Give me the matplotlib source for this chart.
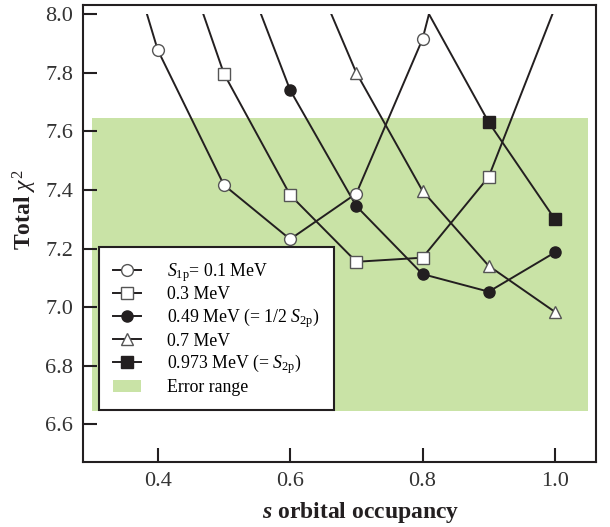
import numpy as np
import matplotlib
matplotlib.use("Agg")
import matplotlib.pyplot as plt
from matplotlib.lines import Line2D
from matplotlib.patches import Rectangle

# values (points above 8.0 only set the clipped line ends)
x_01 = [0.3, 0.4, 0.5, 0.6, 0.7, 0.8, 0.9]
chi_01 = [8.63, 7.878, 7.417, 7.232, 7.388, 7.915, 8.79]
x_03 = [0.4, 0.5, 0.6, 0.7, 0.8, 0.9, 1.0]
chi_03 = [8.45, 7.797, 7.383, 7.155, 7.169, 7.445, 8.022]
x_049 = [0.5, 0.6, 0.7, 0.8, 0.9, 1.0]
chi_049 = [8.33, 7.741, 7.345, 7.113, 7.053, 7.187]
x_07 = [0.6, 0.7, 0.8, 0.9, 1.0]
chi_07 = [8.33, 7.80, 7.397, 7.141, 6.984]
x_0973 = [0.8, 0.9, 1.0]
chi_0973 = [8.04, 7.631, 7.300]

err_x = [0.3, 1.05]
err_lo = 6.645
err_hi = 7.645
chi_cut = 8.0

labels = [r'$S_{\rm 1p}$= 0.1 MeV', '0.3 MeV', r'0.49 MeV (= 1/2 $S_{\rm 2p}$)',
          '0.7 MeV', r'0.973 MeV (= $S_{\rm 2p}$)']

plt.rcParams['font.family'] = 'serif'
plt.rcParams['font.serif'] = ['Liberation Serif', 'DejaVu Serif']
plt.rcParams['mathtext.fontset'] = 'custom'
plt.rcParams['mathtext.rm'] = 'Liberation Serif'
plt.rcParams['mathtext.it'] = 'Liberation Serif:italic'
plt.rcParams['mathtext.bf'] = 'Liberation Serif:bold'
plt.rcParams['mathtext.bfit'] = 'Liberation Serif:italic:bold'

ink = '#231f20'
green = '#c9e3a6'
edge_open = '#555555'

fig = plt.figure(figsize=(6.1, 5.27), dpi=100)
ax = fig.add_axes([0.1356, 0.1229, 0.8414, 0.8669])

ax.fill_between(err_x, err_lo, err_hi, color=green, lw=0, zorder=1)

styles = [
    dict(marker='o', mfc='white', mec=edge_open, ms=8.5),
    dict(marker='s', mfc='white', mec=edge_open, ms=8),
    dict(marker='o', mfc=ink, mec=ink, ms=8),
    dict(marker='^', mfc='white', mec=edge_open, ms=8.5),
    dict(marker='s', mfc=ink, mec=ink, ms=8),
]
series = [(x_01, chi_01), (x_03, chi_03), (x_049, chi_049), (x_07, chi_07), (x_0973, chi_0973)]

handles = []
for (xs, ys), st, lab in zip(series, styles, labels):
    xs = np.array(xs)
    ys = np.array(ys)
    ln, = ax.plot(xs, ys, '-', color=ink, lw=1.4, zorder=2)
    clip = Rectangle((0, 0), 2, chi_cut, transform=ax.transData)
    ln.set_clip_path(clip)
    keep = ys <= chi_cut
    ax.plot(xs[keep], ys[keep], ls='none', mew=1.0, zorder=3, **st)
    handles.append(Line2D([], [], color=ink, lw=1.4, mew=1.0, label=lab, **st))

handles.append(Rectangle((0, 0), 1, 1, color=green, lw=0, label='Error range'))

leg = ax.legend(handles=handles, loc='upper left', bbox_to_anchor=(0.032, 0.471),
                borderaxespad=0, fontsize=12.8, frameon=True, fancybox=False,
                edgecolor=ink, framealpha=1, handlelength=1.6, handletextpad=1.45,
                labelspacing=0.15, borderpad=0.78)
leg.get_frame().set_linewidth(1.5)

ax.set_xlim(0.2867, 1.062)
ax.set_ylim(6.471, 8.03)
ax.set_xticks([0.4, 0.6, 0.8, 1.0])
ax.set_yticks([6.6, 6.8, 7.0, 7.2, 7.4, 7.6, 7.8, 8.0])
ax.xaxis.set_major_formatter(matplotlib.ticker.FormatStrFormatter('%.1f'))
ax.yaxis.set_major_formatter(matplotlib.ticker.FormatStrFormatter('%.1f'))
ax.tick_params(direction='in', length=10, width=1.5, labelsize=16, colors=ink,
               labelcolor='#333333', pad=7)
for sp in ax.spines.values():
    sp.set_linewidth(1.5)
    sp.set_color(ink)

ax.set_xlabel(r'$\mathbfit{s}$ orbital occupancy', fontsize=17, fontweight='bold', color=ink)
ax.set_ylabel(r'Total $\chi^2$', fontsize=17, fontweight='bold', color=ink)
ax.xaxis.set_label_coords(0.542, -0.083)
ax.yaxis.set_label_coords(-0.085, 0.552)

fig.savefig('out.png', dpi=100)
